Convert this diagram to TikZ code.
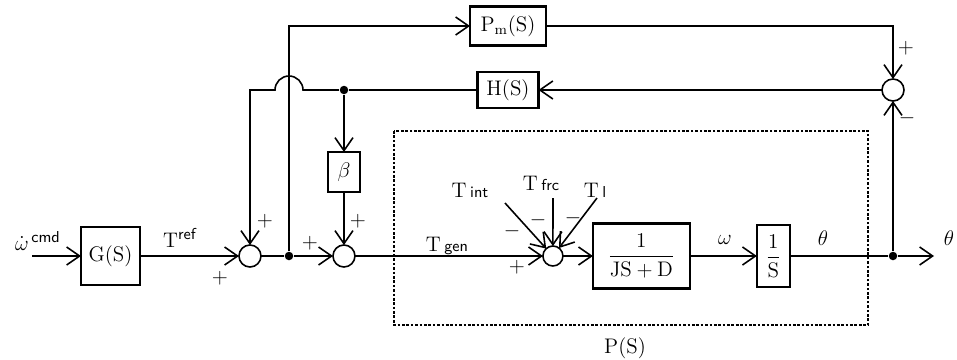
\documentclass[tikz,border=0pt]{standalone}
\usepackage{amsmath}
\usetikzlibrary{positioning,arrows.meta}

\begin{document}
\begin{tikzpicture}[
		x=0.02cm, y=-0.02cm,
		line width=0.9pt,
		box/.style={draw, line width=1.3pt, inner sep=0pt, outer sep=0pt, font=\large},
		sumnode/.style={draw, circle, minimum size=0.44cm, inner sep=0pt, outer sep=0pt},
		dotnode/.style={circle, fill, minimum size=0.17cm, inner sep=0pt},
		sign/.style={font=\large, inner sep=0pt},
		lbl/.style={font=\large, inner sep=1pt},
		arrow/.style={-{Straight Barb[length=2.6mm, width=3.6mm]}},
		plantbox/.style={densely dotted, line width=1.5pt}
		]
		\useasboundingbox (0,0) rectangle (957,359);
		
		% forward path
		\coordinate (in) at (32,256);
		\node[box, minimum width=1.18cm, minimum height=1.16cm] (gs) at (110.5,256) {G(S)};
		\node[sumnode, right=1.98cm of gs] (sum1) {};
		\node[dotnode] (dot1) at (289,256) {};
		\node[sumnode, right=1.44cm of sum1] (sum2) {};
		\node[sumnode, minimum size=0.4cm, right=3.76cm of sum2] (sum3) {};
		\node[box, minimum width=1.94cm, minimum height=1.3cm, right=0.6cm of sum3] (jsd) {$\dfrac{1}{\mathrm{JS}+\mathrm{D}}$};
		\node[box, minimum width=0.66cm, minimum height=1.24cm, right=1.34cm of jsd] (ints) {$\dfrac{1}{\mathrm{S}}$};
		\node[dotnode] (dot2) at (893,256) {};
		\coordinate (out) at (934,256);
		
		% feedback blocks
		\node[box, minimum width=1.52cm, minimum height=0.78cm] (pm) at (508,26) {P$_{\mathrm{m}}$(S)};
		\node[box, minimum width=1.22cm, minimum height=0.72cm, below=0.53cm of pm] (hs) {H(S)};
		\node[sumnode] (sum4) at (893,90) {};
		\node[dotnode] (dot3) at (344,90) {};
		\node[box, minimum width=0.64cm, minimum height=0.8cm] (beta) at (344,172) {$\beta$};
		\coordinate (hopR) at (303,90);
		\coordinate (corner1) at (250,90);
		
		% plant P(S)
		\draw[plantbox] (394,131) rectangle (868,325);
		\node[lbl] (plant) at (625,348) {P(S)};
		
		\draw[arrow] (in) -- (gs);
		\draw[arrow] (gs) -- (sum1);
		\draw (sum1) -- (dot1);
		\draw[arrow] (dot1) -- (sum2);
		\draw[arrow] (sum2) -- (sum3);
		\draw[arrow] (sum3) -- (jsd);
		\draw[arrow] (jsd) -- (ints);
		\draw (ints) -- (dot2);
		\draw[arrow] (dot2) -- (out);
		
		\draw[arrow] (dot1) |- (pm);
		\draw[arrow] (pm) -| (sum4);
		\draw[arrow] (dot2) -- (sum4);
		\draw[arrow] (sum4) -- (hs);
		\draw (hs) -- (dot3);
		\draw[arrow] (dot3) -- (hopR) arc[start angle=0, end angle=180, radius=0.28cm] -- (corner1) -- (sum1);
		\draw[arrow] (dot3) -- (beta);
		\draw[arrow] (beta) -- (sum2);
		
		% disturbance torques
		\coordinate (tintS) at (505,203);
		\coordinate (tfrcS) at (553,198);
		\coordinate (tlS) at (597,198);
		\draw[arrow] (tintS) -- (sum3);
		\draw[arrow] (tfrcS) -- (sum3);
		\draw[arrow] (tlS) -- (sum3);
		
		% labels
		\node[lbl] (wcmd) at (38,241) {$\dot{\omega}^{\,\textsf{\small cmd}}$};
		\node[lbl] (tref) at (180,238) {T$^{\textsf{\small ref}}$};
		\node[lbl] (tgen) at (447,246) {T\,\textsf{\small gen}};
		\node[lbl] (tint) at (470,190) {T\,\textsf{\small int}};
		\node[lbl] (tfrc) at (541,183) {T\,\textsf{\small frc}};
		\node[lbl] (tl) at (595,190) {T\,\textsf{\small l}};
		\node[lbl] (wlbl) at (725,240) {$\omega$};
		\node[lbl] (thin) at (823,238) {$\theta$};
		\node[lbl] (thout) at (949,238) {$\theta$};
		
		% signs
		\node[sign] at (265,221) {$+$};
		\node[sign] at (220,278) {$+$};
		\node[sign] at (310,243) {$+$};
		\node[sign] at (358,221) {$+$};
		\node[sign] at (512,231) {$-$};
		\node[sign] at (538,220) {$-$};
		\node[sign] at (573,218) {$-$};
		\node[sign] at (517,267) {$+$};
		\node[sign] at (906,48) {$+$};
		\node[sign] at (907,118) {$-$};
		
	\end{tikzpicture}
\end{document}
